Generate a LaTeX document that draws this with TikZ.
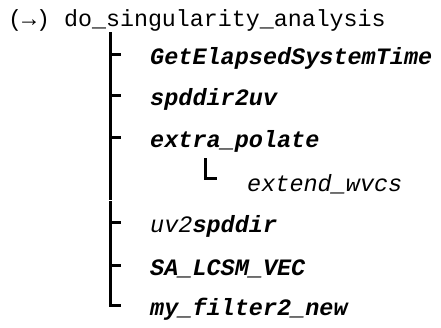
\documentclass[tikz,border=0pt]{standalone}
\usepackage{fontspec}
\setmonofont{Liberation Mono}
\usetikzlibrary{positioning,calc}

\begin{document}
\begin{tikzpicture}[x=1pt, y=-1pt,
  root/.style={font=\fontsize{23.3}{28}\selectfont\ttfamily, anchor=base west, inner sep=0pt},
  fn/.style={font=\fontsize{23.5}{28}\selectfont\ttfamily\bfseries\itshape, anchor=base west, inner sep=0pt},
  leaf/.style={font=\fontsize{23.5}{28}\selectfont\ttfamily\itshape, anchor=base west, inner sep=0pt},
  branch/.style={line width=3pt}]
\useasboundingbox (0,0) rectangle (441,327);

\node[root] (dsa) at (8,26) {(→) do\_singularity\_analysis};

\node[fn] (gest) at (150,64) {GetElapsedSystemTime};
\node[fn] (s2uv) at (150,105) {spddir2uv};
\node[fn] (expol) at (150,147) {extra\_polate};
\node[leaf] (extw) at (247,191) {extend\_wvcs};
\node[fn] (uv2s) at (150,232) {{\mdseries uv2}spddir};
\node[fn] (lcsm) at (150,275) {SA\_LCSM\_VEC};
\node[fn] (filt) at (150,315) {my\_filter2\_new};

% trunk under the root, split where the sub-branch sits
\coordinate (trunk) at (110,32);
\coordinate (gap1) at (110,199.5);
\coordinate (gap2) at (110,201);
\coordinate (trunkend) at (110,306.5);
\draw[branch] (trunk) -- (gap1);
\draw[branch] (gap2) -- (trunkend);

% ticks to each child
\foreach \k/\y in {gest/54, s2uv/95, expol/137, uv2s/222, lcsm/265, filt/305} {
  \coordinate (k\k) at (110,\y);
  \coordinate (kk\k) at (121,\y);
  \draw[branch] (k\k) -- (kk\k);
}

% sub-branch of extra_polate
\coordinate (sub) at (205,158);
\coordinate (subend) at (217,178.5);
\draw[branch] (sub) |- (subend);
\end{tikzpicture}
\end{document}
